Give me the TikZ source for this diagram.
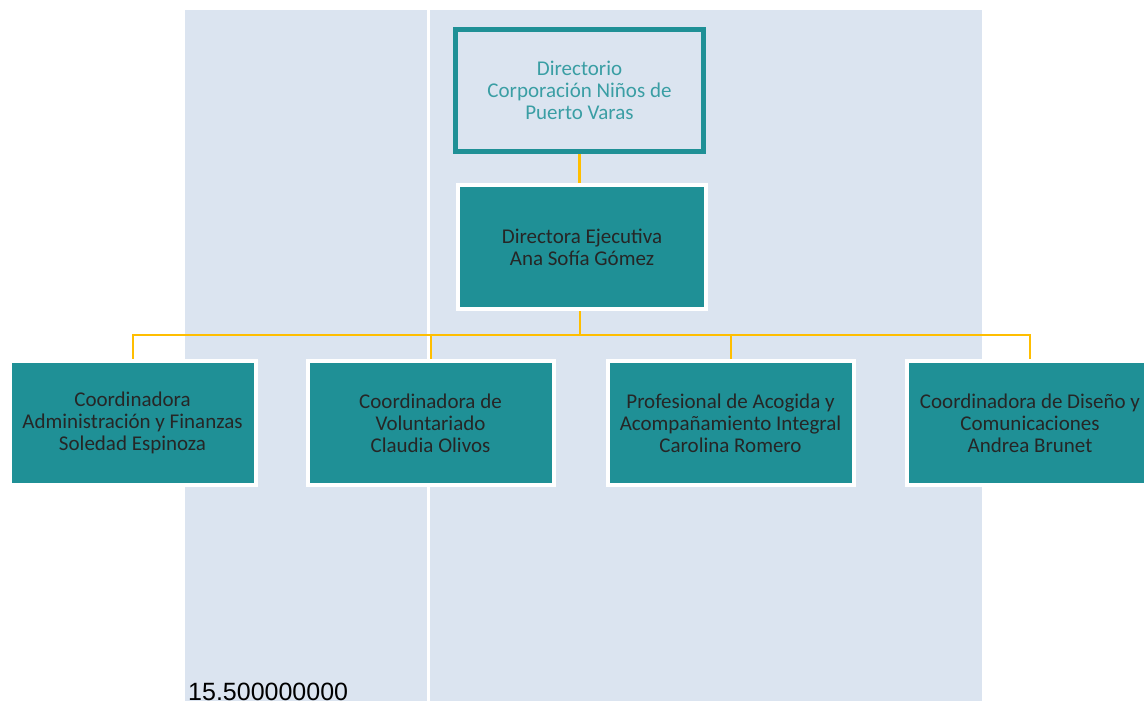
\documentclass[tikz,border=0pt]{standalone}
\usepackage{fontspec}
\newfontfamily\carlito{Carlito}
\newfontfamily\arialf{Liberation Sans}
\definecolor{panel}{HTML}{DBE4F0}
\definecolor{tealbox}{HTML}{1F9096}
\definecolor{tealtext}{HTML}{3A9EA4}
\definecolor{busline}{HTML}{FFBE00}
\tikzset{
  unit/.style={draw=white, line width=4pt, fill=tealbox, minimum width=246pt, minimum height=124pt,
    align=center, font=\carlito\fontsize{21}{22}\selectfont, text=black!85, inner sep=0pt},
  board/.style={draw=tealbox, line width=5pt, fill=panel, minimum width=248pt, minimum height=122pt,
    align=center, font=\carlito\fontsize{21}{22}\selectfont, text=tealtext, inner sep=0pt},
  conn/.style={draw=busline, line width=2pt}
}
\begin{document}
\begin{tikzpicture}[x=1pt, y=-1pt]
            \useasboundingbox (0,0) rectangle (1144,701);
            \clip (0,0) rectangle (1144,701);
            \fill[panel] (185,10) rectangle (427,701);
            \fill[panel] (430,10) rectangle (982,701);

            \node[board] (dir) at (579.5, 90.5) {Directorio\\Corporación Niños de\\Puerto Varas};
            \node[unit, minimum width=248pt] (ej) at (582, 247) {Directora Ejecutiva\\Ana Sofía Gómez};

            \node[unit] (c1) at (132.5, 423) {Coordinadora\\Administración y Finanzas\\Soledad Espinoza};
            \node[unit] (c2) at (430.5, 423) {Coordinadora de\\Voluntariado\\Claudia Olivos};
            \node[unit] (c3) at (730.5, 423) {Profesional de Acogida y\\Acompañamiento Integral\\Carolina Romero};
            \node[unit] (c4) at (1030, 423) {Coordinadora de Diseño y\\Comunicaciones\\Andrea Brunet};

            \node[anchor=base west, font=\arialf\fontsize{25}{28}\selectfont, inner sep=0pt] (num) at (188, 700) {15.500000000};

            \draw[conn, line width=3pt] (dir.south) -- (dir.south |- ej.north);
            \draw[conn] (dir.south |- ej.south) -- ++(0,24) -| (c1.north);
            \draw[conn] (dir.south |- ej.south) -- ++(0,24) -| (c2.north);
            \draw[conn] (dir.south |- ej.south) -- ++(0,24) -| (c3.north);
            \draw[conn] (dir.south |- ej.south) -- ++(0,24) -| (c4.north);
\end{tikzpicture}
\end{document}
